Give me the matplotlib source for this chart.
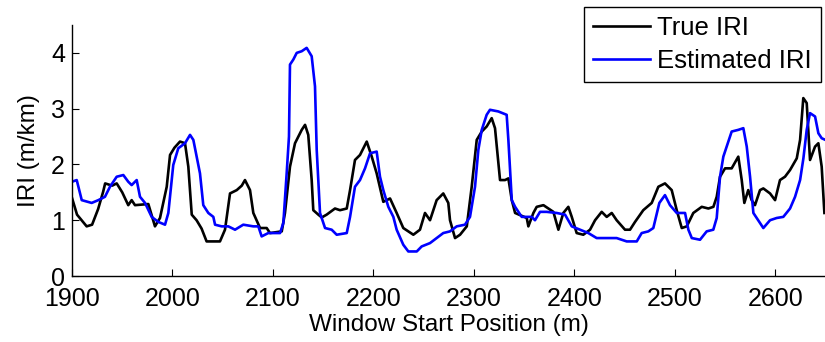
import matplotlib
matplotlib.use("Agg")
import matplotlib.pyplot as plt

plt.rcParams['font.family'] = ['Liberation Sans', 'DejaVu Sans']

# --- 数据: 真实IRI (黑) ---
true_pos = [1900, 1905, 1914.6, 1920, 1926, 1931, 1933, 1940, 1944.5, 1950, 1956, 1959.4, 1962.7,
            1970, 1976, 1982.6, 1987.6, 1994.3, 1997.6, 2002, 2007.5, 2012.5, 2015.8, 2019.2, 2024,
            2029, 2034, 2047.3, 2052.3, 2057.3, 2064, 2069, 2072.2, 2077.2, 2080.5, 2087.2, 2093.8,
            2097.1, 2108.8, 2112, 2117, 2122, 2128.7, 2132, 2135.2, 2138.6, 2140.2, 2145.2, 2148.6,
            2153.5, 2161.8, 2166.8, 2173.5, 2176.8, 2181.7, 2186.7, 2193.4, 2198.4, 2203.3, 2209.9,
            2216.6, 2223.2, 2229.8, 2239.8, 2246.4, 2251.4, 2256.4, 2263, 2269.6, 2274.6, 2276.3,
            2281.3, 2286.3, 2293, 2297.9, 2302.9, 2307.9, 2312.8, 2317.8, 2321.1, 2326.1, 2331.1,
            2334.4, 2337.8, 2341.1, 2352.7, 2354.3, 2359.3, 2362.6, 2369.3, 2379.2, 2384.2, 2389.1,
            2394.1, 2397.5, 2402.4, 2409, 2415.7, 2420.7, 2427.3, 2432.3, 2437.3, 2442.2, 2450.5,
            2455.5, 2460.5, 2468.7, 2477.1, 2483.7, 2490.3, 2497, 2502, 2507, 2512, 2518.5, 2526.9,
            2533.5, 2538.5, 2541.8, 2545.1, 2550.1, 2556.7, 2563.3, 2566.7, 2569.3, 2573.2, 2576.6,
            2579.9, 2584.9, 2588.2, 2594.9, 2599.9, 2604.8, 2609.8, 2614.8, 2621.5, 2624.8, 2628,
            2631.4, 2634.7, 2639.7, 2643, 2646.3, 2649]
true_iri = [1.40, 1.10, 0.89, 0.92, 1.20, 1.51, 1.66, 1.62, 1.66, 1.50, 1.27, 1.36, 1.27,
            1.28, 1.29, 0.89, 1.04, 1.60, 2.17, 2.30, 2.41, 2.38, 1.96, 1.10, 1.00,
            0.85, 0.62, 0.62, 0.83, 1.48, 1.54, 1.62, 1.72, 1.54, 1.13, 0.86, 0.86,
            0.77, 0.80, 1.13, 1.96, 2.38, 2.62, 2.71, 2.53, 1.72, 1.18, 1.10, 1.05,
            1.10, 1.21, 1.18, 1.21, 1.54, 2.08, 2.17, 2.41, 2.14, 1.84, 1.33,
            1.39, 1.13, 0.86, 0.74, 0.83, 1.13, 1.00, 1.36, 1.48, 1.31, 1.00,
            0.68, 0.74, 0.89, 1.60, 2.44, 2.59, 2.68, 2.83, 2.65, 1.72, 1.72,
            1.75, 1.36, 1.13, 1.04, 0.89, 1.13, 1.24, 1.27, 1.15, 0.83, 1.13,
            1.24, 1.06, 0.77, 0.74, 0.83, 1.00, 1.15, 1.06, 1.13, 1.00, 0.83,
            0.83, 0.97, 1.18, 1.31, 1.60, 1.66, 1.54, 1.18, 0.86, 0.89, 1.13, 1.24,
            1.21, 1.24, 1.42, 1.78, 1.93, 1.93, 2.14, 1.72, 1.31, 1.54, 1.36,
            1.27, 1.54, 1.57, 1.48, 1.36, 1.72, 1.78, 1.90, 2.11, 2.44, 3.19,
            3.10, 2.08, 2.32, 2.38, 1.96, 1.13]

# --- 数据: 估计IRI (蓝) ---
est_pos = [1900, 1904.7, 1909.7, 1919.6, 1926.2, 1932.8, 1937.8, 1944.5, 1951.1, 1956, 1959.4,
           1964.4, 1967.7, 1972.7, 1979.3, 1985.9, 1992.6, 1995.9, 2000.8, 2005.8, 2012.5, 2017.5,
           2020.8, 2024.1, 2027.4, 2030.7, 2035.7, 2040.7, 2042.4, 2049, 2055.6, 2062.3, 2070.5,
           2080.5, 2085.5, 2088.8, 2095.4, 2107.1, 2110.4, 2113.7, 2116, 2117, 2120.3, 2123.7,
           2128.7, 2133.6, 2138.6, 2141.9, 2143.6, 2146.9, 2151.9, 2158.5, 2163.5, 2173.5, 2176.8,
           2181.7, 2186.7, 2191.7, 2196.7, 2203.3, 2206.6, 2209.9, 2214.9, 2219.9, 2223.2, 2229.8,
           2234.8, 2243.2, 2248.1, 2256.4, 2263, 2269.6, 2276.3, 2283, 2291.2, 2296.2, 2301.2,
           2304.5, 2307.9, 2312.8, 2316.1, 2324.4, 2332.7, 2334.4, 2337.8, 2341.1, 2347.7, 2357.6,
           2360.9, 2365.9, 2372.5, 2382.5, 2390.8, 2397.5, 2405.7, 2414, 2422.3, 2442.2, 2452.2,
           2462.2, 2467.1, 2473.7, 2478.7, 2481.4, 2484.7, 2490.3, 2495.3, 2502, 2510.3, 2513.6,
           2517, 2525.2, 2531.8, 2538.4, 2541.8, 2545.1, 2548.4, 2553.4, 2556.7, 2563.3, 2568.3,
           2571.7, 2575, 2578.3, 2584.9, 2588.2, 2594.9, 2601.5, 2608.1, 2614.8, 2619.8, 2624.8,
           2628.1, 2631.4, 2634.7, 2639.7, 2643, 2646.3, 2650]
est_iri = [1.69, 1.72, 1.36, 1.31, 1.36, 1.42, 1.60, 1.78, 1.81, 1.69, 1.63,
           1.72, 1.42, 1.31, 1.06, 0.97, 0.92, 1.13, 1.99, 2.29, 2.38, 2.53,
           2.44, 2.14, 1.84, 1.27, 1.13, 1.06, 0.92, 0.89, 0.89, 0.83, 0.92,
           0.89, 0.89, 0.71, 0.77, 0.77, 0.95, 1.84, 2.50, 3.79, 3.88, 4.00,
           4.03, 4.09, 3.94, 3.40, 2.26, 1.13, 0.86, 0.83, 0.74, 0.77, 1.06,
           1.60, 1.72, 1.93, 2.20, 2.23, 1.78, 1.54, 1.24, 1.06, 0.83, 0.56,
           0.44, 0.44, 0.53, 0.59, 0.68, 0.77, 0.80, 0.89, 0.92, 1.06, 1.60,
           2.26, 2.62, 2.89, 2.98, 2.95, 2.89, 2.44, 1.36, 1.24, 1.06, 1.06,
           1.00, 1.15, 1.15, 1.13, 1.10, 0.89, 0.83, 0.77, 0.68, 0.68, 0.62,
           0.62, 0.77, 0.80, 0.86, 1.06, 1.31, 1.45, 1.27, 1.13, 1.13, 0.83,
           0.68, 0.65, 0.80, 0.83, 1.04, 1.78, 2.14, 2.41, 2.59, 2.62, 2.65,
           2.32, 1.78, 1.13, 0.95, 0.86, 1.00, 1.04, 1.06, 1.21, 1.42, 1.72,
           2.11, 2.62, 2.92, 2.86, 2.56, 2.47, 2.44]

x_ticks = [1900, 2000, 2100, 2200, 2300, 2400, 2500, 2600]
y_ticks = [0, 1, 2, 3, 4]

fig = plt.figure(figsize=(8.25, 3.42), dpi=100)
ax = fig.add_axes([72 / 825, 66 / 342, 753.4 / 825, 251 / 342])

ax.plot(true_pos, true_iri, color='black', linewidth=1.9, label='True IRI')
ax.plot(est_pos, est_iri, color='#0000ff', linewidth=1.9, label='Estimated IRI')

ax.set_xlim(1900, 2650)
ax.set_ylim(0, 4.5)
ax.set_xticks(x_ticks)
ax.set_yticks(y_ticks)
ax.tick_params(direction='in', length=5, width=0.8, labelsize=18)
ax.tick_params(axis='x', pad=8)
ax.tick_params(axis='y', pad=5)
ax.spines['top'].set_visible(False)
ax.spines['right'].set_visible(False)
for s in ['left', 'bottom']:
    ax.spines[s].set_linewidth(1.0)

ax.set_xlabel('Window Start Position (m)', fontsize=17.5, labelpad=2)
ax.set_ylabel('IRI (m/km)', fontsize=17.5, labelpad=8)

leg = fig.legend(loc='upper left', bbox_to_anchor=(584 / 825, 335 / 342), fontsize=18.5,
                 frameon=True, fancybox=False, edgecolor='black', framealpha=1,
                 handlelength=2.2, handletextpad=0.3, labelspacing=0.35, borderpad=0.35,
                 borderaxespad=0)
leg.get_frame().set_linewidth(1.0)

plt.savefig('out.png', dpi=100)
